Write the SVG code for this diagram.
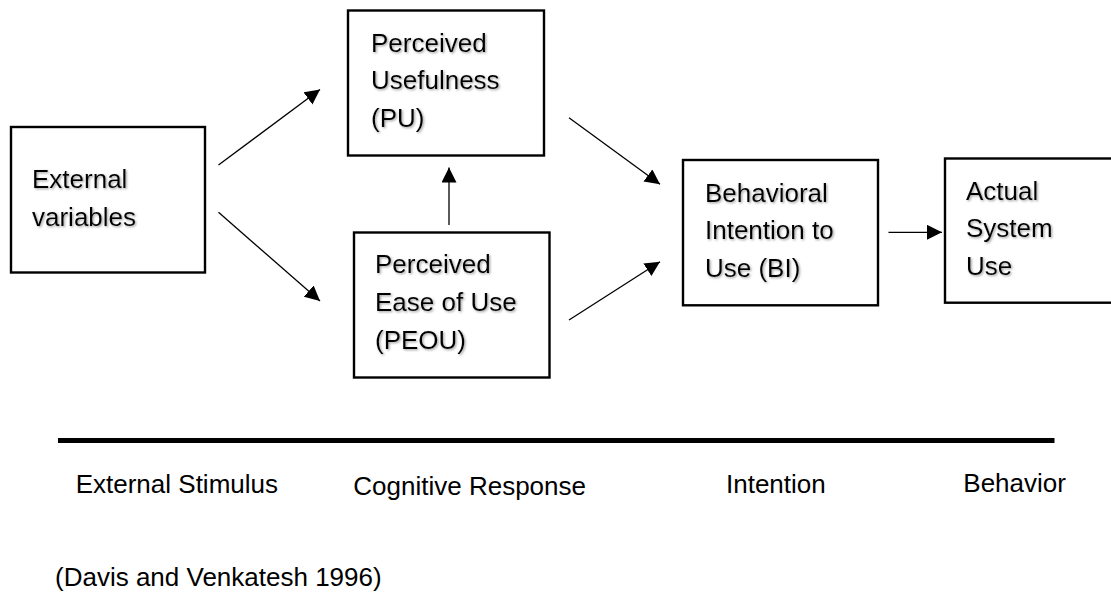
<svg xmlns="http://www.w3.org/2000/svg" width="1111" height="594" viewBox="0 0 1111 594">
<defs>
<filter id="sh" x="-10%" y="-20%" width="130%" height="160%">
<feDropShadow dx="1.2" dy="1.2" stdDeviation="0.9" flood-color="#777" flood-opacity="0.7"/>
</filter>
<marker id="ah" markerUnits="userSpaceOnUse" markerWidth="17" markerHeight="16" refX="15" refY="7.5" orient="auto">
<path d="M0,0 L15,7.5 L0,15 Z" fill="#000"/>
</marker>
</defs>
<style>
.box{fill:#fff;stroke:#000;stroke-width:2.4}
.lbl{font-family:"Liberation Sans",Arial,sans-serif;font-size:26px;fill:#000}
.sh{filter:url(#sh)}
.con{stroke:#000;stroke-width:1.3;fill:none;marker-end:url(#ah)}
</style>
<rect width="1111" height="594" fill="#fff"/>

<g id="external-variables">
<rect class="box" x="11" y="127" width="194" height="145.5"/>
<text class="lbl sh" x="32" y="188.3">External</text>
<text class="lbl sh" x="32" y="226">variables</text>
</g>

<g id="perceived-usefulness">
<rect class="box" x="348" y="10.5" width="196" height="145"/>
<text class="lbl sh" x="371" y="51.7">Perceived</text>
<text class="lbl sh" x="371" y="89.3">Usefulness</text>
<text class="lbl sh" x="371" y="127">(PU)</text>
</g>

<g id="perceived-ease-of-use">
<rect class="box" x="354" y="232.5" width="195.5" height="145"/>
<text class="lbl sh" x="375" y="273.3">Perceived</text>
<text class="lbl sh" x="375" y="311.3">Ease of Use</text>
<text class="lbl sh" x="375" y="349">(PEOU)</text>
</g>

<g id="behavioral-intention">
<rect class="box" x="683" y="160" width="195" height="145.3"/>
<text class="lbl sh" x="705" y="201.7">Behavioral</text>
<text class="lbl sh" x="705" y="239.3">Intention to</text>
<text class="lbl sh" x="705" y="276.7">Use (BI)</text>
</g>

<g id="actual-system-use">
<rect class="box" x="945" y="158.5" width="200" height="144.2"/>
<text class="lbl sh" x="966" y="199.5">Actual</text>
<text class="lbl sh" x="966" y="237">System</text>
<text class="lbl sh" x="966" y="274.5">Use</text>
</g>

<g id="connectors">
<line class="con" x1="218.5" y1="165" x2="320" y2="89.5"/>
<line class="con" x1="218.5" y1="212.3" x2="320" y2="301"/>
<line class="con" x1="449" y1="225" x2="449" y2="167.5"/>
<line class="con" x1="569" y1="117.7" x2="660" y2="184.3"/>
<line class="con" x1="569" y1="320" x2="660" y2="261.7"/>
<line class="con" x1="888.5" y1="232.3" x2="942" y2="232.3"/>
</g>

<g id="stages">
<line x1="58" y1="440.5" x2="1054.5" y2="440.5" stroke="#000" stroke-width="5"/>
<text class="lbl" x="75.7" y="493.3">External Stimulus</text>
<text class="lbl" x="353.3" y="495">Cognitive Response</text>
<text class="lbl" x="726" y="493.3">Intention</text>
<text class="lbl" x="963.3" y="491.7">Behavior</text>
</g>

<g id="citation">
<text class="lbl" x="55" y="586">(Davis and Venkatesh 1996)</text>
</g>
</svg>
